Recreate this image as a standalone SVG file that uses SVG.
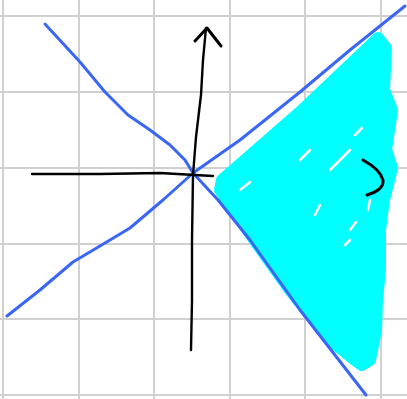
<svg xmlns="http://www.w3.org/2000/svg" width="407" height="399" viewBox="0 0 407 399">
<style>
.grid{stroke:#d0d0d0;stroke-width:2;fill:none}
.blue{stroke:#3a66f5;stroke-width:3;fill:none;stroke-linecap:round;stroke-linejoin:round}
.ink{stroke:#000;stroke-width:2.4;fill:none;stroke-linecap:round;stroke-linejoin:round}
.cyan{fill:#00ffff;stroke:#00ffff;stroke-width:12;stroke-linejoin:round;stroke-linecap:round}
.gap{stroke:#fff;stroke-width:2.5;stroke-linecap:round}
</style>
<rect width="407" height="399" fill="#fff"/>
<g id="grid">
<path class="grid" d="M3 0V399M79 0V399M154 0V399M230 0V399M305 0V399M381 0V399M0 16H407M0 92H407M0 168H407M0 244H407M0 319H407M0 395H407"/>
</g>
<g id="region">
<path class="cyan" d="M222 180 L300 112 L378 38 L386 48 L384 90 L392 110 L386 150 L392 168 L384 200 L380 230 L380 270 L377 300 L376 330 L370 360 L362 365 L355 360 L330 340 L290 290 L258 245 L230 205 L220 190 Z"/>
<path class="gap" d="M300 160 L310 150 M330 170 L350 150 M240 190 L250 182 M315 215 L320 205 M350 230 L356 222 M368 210 L370 200 M345 245 L350 240 M355 135 L362 128"/>
</g>
<g id="connectors">
<path class="blue" d="M45 24 L80 62 L105 92 L128 115 L150 130 L170 145 L185 160 L193 173 L218 200 L250 240 L300 310 L366 395"/>
<path class="blue" d="M7 316 L40 290 L73 262 L105 243 L130 228 L163 200 L193 173 L240 140 L300 92 L350 50 L405 6"/>
<path class="ink" d="M32 174 L100 174 L160 173 L195 175 L213 176"/>
<path class="ink" d="M191 350 L192 300 L192 240 L193 175 L196 137 L201 95 L203 60 L206 28"/>
<path class="ink" style="stroke-width:3" d="M195 41 L207 28 L221 46"/>
<path class="ink" style="stroke-width:3" d="M363 160 C372 165 381 172 383 180 C384 188 375 193 367 195"/>
</g>
</svg>
